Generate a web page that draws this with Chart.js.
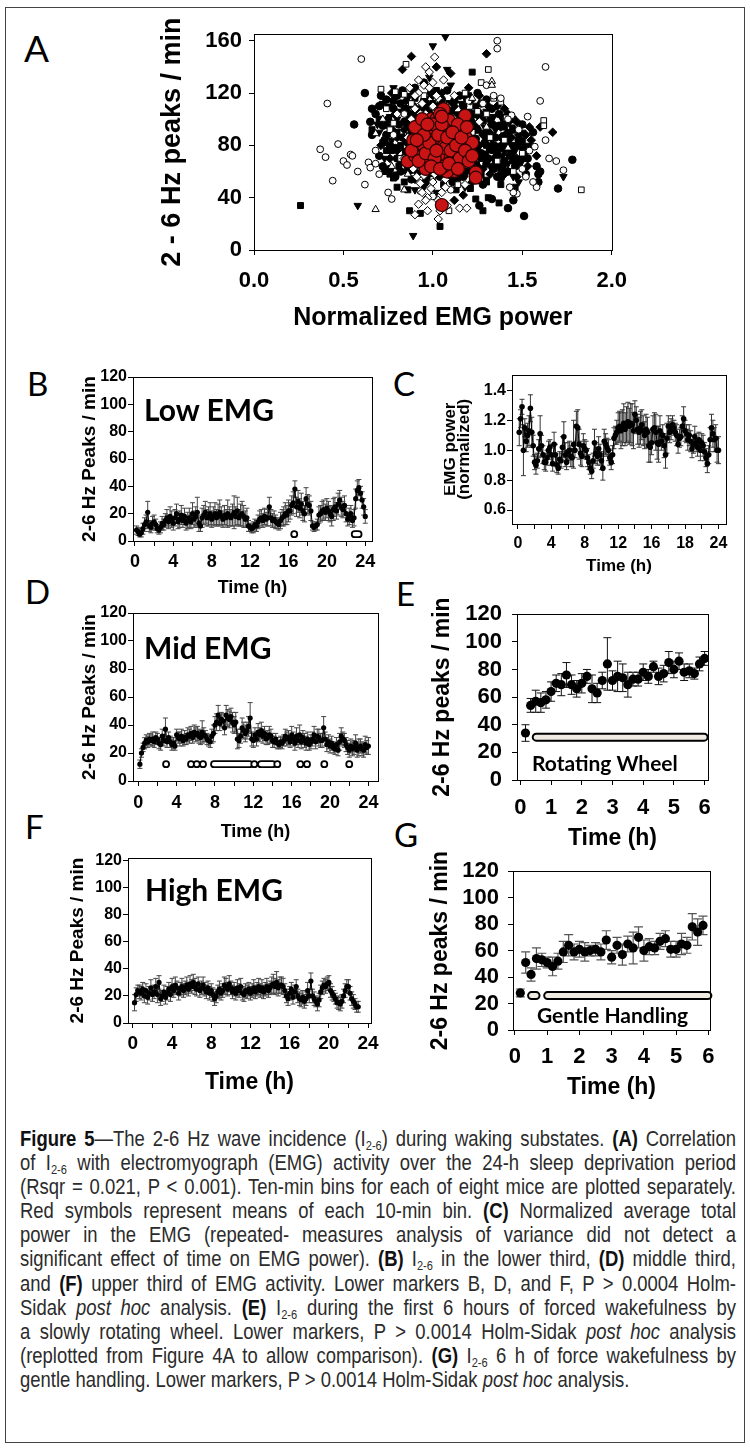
<!DOCTYPE html>
<html><head><meta charset="utf-8">
<script src="https://cdn.jsdelivr.net/npm/chart.js@4.4.1/dist/chart.umd.min.js"></script>
<style>
html,body{margin:0;padding:0;background:#fff;}
body{width:750px;height:1450px;position:relative;overflow:hidden;}
#frame{position:absolute;left:5px;top:7px;width:740px;height:1436px;border:1.6px solid #444;box-sizing:border-box;}
canvas{position:absolute;}
.lbl{position:absolute;font-family:Lato,'Open Sans',sans-serif;line-height:1;color:#000;white-space:nowrap;z-index:5;}
.pl{font-weight:400;font-size:33px;}
.ins{font-weight:700;}
#cap{position:absolute;left:20px;top:1127px;width:716px;font-family:'Liberation Sans',Arial,sans-serif;font-size:22.5px;color:#2b2b2b;z-index:5;}
#cap div{height:24.1px;line-height:24px;white-space:nowrap;transform:scaleX(0.82);transform-origin:0 0;width:880px;}
#cap b{color:#111;}
#cap sub{font-size:60%;vertical-align:-0.3em;line-height:0;}
</style></head>
<body>
<div id="frame"></div>
<div id="stage"></div>
<div class="lbl pl" style="left:24px;top:29px;font-size:37px">A</div>
<div class="lbl pl" style="left:27px;top:367px">B</div>
<div class="lbl pl" style="left:393px;top:367px">C</div>
<div class="lbl pl" style="left:25px;top:575px">D</div>
<div class="lbl pl" style="left:396px;top:577px">E</div>
<div class="lbl pl" style="left:25px;top:810px">F</div>
<div class="lbl pl" style="left:394px;top:818px">G</div>
<div class="lbl ins" style="left:144px;top:394px;font-size:30px">Low EMG</div>
<div class="lbl ins" style="left:144px;top:632px;font-size:30px">Mid EMG</div>
<div class="lbl ins" style="left:145px;top:874px;font-size:30px">High EMG</div>
<div class="lbl ins" style="left:532px;top:752px;font-size:21px">Rotating Wheel</div>
<div class="lbl ins" style="left:537px;top:1004px;font-size:21px">Gentle Handling</div>
<div id="cap">
<div class="j"><span><b>Figure 5</b>—The 2-6 Hz wave incidence (I<sub>2-6</sub>) during waking substates. <b>(A)</b> Correlation</span></div>
<div class="j"><span>of I<sub>2-6</sub> with electromyograph (EMG) activity over the 24-h sleep deprivation period</span></div>
<div class="j"><span>(Rsqr = 0.021, P &lt; 0.001). Ten-min bins for each of eight mice are plotted separately.</span></div>
<div class="j"><span>Red symbols represent means of each 10-min bin. <b>(C)</b> Normalized average total</span></div>
<div class="j"><span>power in the EMG (repeated- measures analysis of variance did not detect a</span></div>
<div class="j"><span>significant effect of time on EMG power). <b>(B)</b> I<sub>2-6</sub> in the lower third, <b>(D)</b> middle third,</span></div>
<div class="j"><span>and <b>(F)</b> upper third of EMG activity. Lower markers B, D, and F, P &gt; 0.0004 Holm-</span></div>
<div class="j"><span>Sidak <i>post hoc</i> analysis. <b>(E)</b> I<sub>2-6</sub> during the first 6 hours of forced wakefulness by</span></div>
<div class="j"><span>a slowly rotating wheel. Lower markers, P &gt; 0.0014 Holm-Sidak <i>post hoc</i> analysis</span></div>
<div class="j"><span>(replotted from Figure 4A to allow comparison). <b>(G)</b> I<sub>2-6</sub> 6 h of force wakefulness by</span></div>
<div><span>gentle handling. Lower markers, P &gt; 0.0014 Holm-Sidak <i>post hoc</i> analysis.</span></div>
</div>
<script>
// ================= DATA =================
// Panel A: tick values / labels
const aXTicks = [0, 0.5, 1, 1.5, 2];
const aXLabels = ['0.0', '0.5', '1.0', '1.5', '2.0'];
const aYTicks = [0, 40, 80, 120, 160];
const aYLabels = ['0', '40', '80', '120', '160'];
// Panel A: 10-min bins per mouse, [x, y, x, y, ...] (normalized EMG power, 2-6 Hz peaks/min)
const mouseFilledCircle = [0.62,120,0.56,96,0.65,98,0.68,104,0.66,88,0.7,110,0.72,95,0.73,84,0.75,100,0.74,115,0.78,108,0.77,92,0.79,78,0.8,70,0.76,62,
0.82,112,0.84,98,0.83,86,0.85,75,0.86,64,0.87,104,0.88,92,0.89,81,0.9,118,0.91,70,0.92,58,0.93,99,0.94,87,0.95,76,0.96,108,0.97,65,0.98,94,0.99,83,1.0,72,1.01,102,
1.02,60,1.03,90,1.04,79,1.05,115,1.06,68,1.07,97,1.08,86,1.09,56,1.1,106,1.11,75,1.12,93,1.13,64,1.14,84,1.15,101,1.16,72,1.17,110,1.18,88,1.19,61,1.2,96,1.21,78,
1.22,68,1.23,104,1.24,85,1.25,92,1.26,58,1.27,74,1.28,99,1.29,82,1.3,66,1.31,90,1.32,77,1.33,108,1.34,62,1.35,86,1.36,72,1.37,95,1.38,55,1.39,80,1.4,68,1.41,88,
1.42,60,1.44,76,1.45,92,1.47,65,1.48,84,1.5,70,1.52,58,1.55,79,1.58,64,1.51,26,1.42,32,1.45,38,1.33,39,1.26,34,1.78,69,1.7,47,1.59,52,1.59,58,1.25,120,0.95,128,
0.8,118,0.9,124,1.15,118,1.3,115,
0.7,72,0.71,118,0.72,64,0.74,88,0.76,80,0.78,114,0.79,56,0.81,96,0.82,60,0.83,122,0.85,108,0.86,82,0.88,54,0.89,110,0.9,96,0.92,84,0.93,66,0.95,114,0.96,52,
0.98,86,0.99,120,1.0,64,1.02,94,1.03,110,1.04,56,1.06,104,1.07,60,1.08,122,1.1,88,1.11,52,1.12,114,1.14,68,1.15,96,1.17,56,1.18,80,1.19,116,1.21,100,1.22,60,
1.24,94,1.25,76,1.27,112,1.28,50,1.3,86,1.31,70,1.33,96,1.34,80,1.36,56,1.37,104,1.39,64,1.4,98,1.42,84,1.43,72,1.45,100,1.46,64,1.49,80,1.5,96,1.53,70,1.56,90,
1.6,60,0.66,108];
const mouseOpenCircle = [0.6,146,0.41,112,0.37,77,0.4,71,0.47,81,0.5,68,0.52,65,0.54,73,0.55,72,0.44,53,0.64,67,0.65,63,0.68,66,0.75,44,0.77,39,1.36,160,1.36,154,
1.63,140,1.6,114,1.53,102,1.63,84,1.65,70,1.69,68,1.73,61,1.58,48,1.56,52,1.47,43,1.45,44,1.43,48,1.38,116,1.34,118,1.44,103,1.42,100,1.48,92,1.54,76,1.57,79,
1.28,112,1.2,114,0.7,58,0.62,50,0.58,60,1.5,62,1.52,56,0.68,76,1.1,46,1.0,41,0.93,45,1.3,126,0.78,88,0.84,104];
const mouseFilledSquare = [0.26,34,1.04,18,0.87,30,0.93,28,1.24,39,1.28,30,1.37,36,1.31,40,1.22,136,0.78,55,0.76,58,0.8,48,0.84,52,0.9,61,0.98,57,1.06,50,1.14,55,
1.21,47,1.3,52,1.38,50,1.46,48,0.72,82,0.74,76,0.82,80,0.86,95,0.92,108,1.0,112,1.08,104,1.16,96,1.24,110,1.32,100,1.4,94,1.46,80,0.88,72,0.96,80,1.04,86,1.12,78,
1.2,84,1.28,70,1.36,64,0.8,90,1.1,64,1.18,58,0.66,92,1.02,122,
0.7,100,0.73,60,0.77,76,0.81,64,0.84,108,0.87,84,0.9,116,0.94,62,0.98,100,1.01,68,1.05,90,1.09,112,1.12,72,1.16,84,1.2,118,1.23,92,1.27,58,1.3,80,1.34,76,1.38,60,
1.42,90,1.45,76,1.5,84,1.13,46,0.86,46];
const mouseOpenSquare = [0.71,123,0.79,121,0.78,97,0.84,119,0.85,142,1.31,138,1.27,128,1.34,116,1.38,113,1.3,104,1.41,101,1.62,99,1.62,95,1.83,46,1.09,30,0.76,92,
0.82,70,0.95,118,1.05,96,1.12,86,1.18,120,1.22,90,1.25,106,1.36,68,1.4,84,1.32,86,0.9,64,1.0,54,1.08,76,1.16,66,0.74,108,1.45,60,1.5,74,1.26,60,0.88,112,1.14,50,1.04,66];
const mouseFilledTriDown = [0.58,34,0.89,11,1.0,156,1.07,163,1.08,138,0.88,122,0.86,116,0.98,132,1.1,126,1.73,56,0.76,102,0.8,100,0.84,84,0.87,88,0.91,78,0.94,94,
0.97,70,1.0,88,1.03,96,1.06,84,1.09,90,1.12,70,1.15,80,1.18,92,1.21,72,1.24,80,1.27,90,1.3,74,1.33,84,1.36,80,1.39,72,1.42,66,1.45,56,1.48,52,1.5,90,0.85,60,0.9,54,
0.95,48,1.02,44,0.82,66,0.7,90,1.2,106,1.3,106,1.43,98,1.38,102,0.78,124,1.35,92,
0.73,70,0.75,110,0.77,84,0.8,58,0.81,106,0.84,76,0.86,118,0.88,66,0.91,102,0.93,74,0.96,116,0.97,58,1.0,106,1.01,78,1.04,120,1.05,64,1.08,96,1.1,58,1.13,104,
1.14,76,1.16,112,1.2,66,1.22,88,1.25,102,1.26,70,1.29,94,1.32,64,1.34,102,1.37,76,1.4,88,1.41,60,1.44,94,1.46,76,1.49,66,1.52,80,0.69,96,0.72,112,1.18,48,1.3,54,0.9,46];
const mouseOpenTriUp = [0.68,31,0.68,89,0.77,64,0.84,46,0.72,100,1.33,129,1.33,126,1.22,116,1.12,88,0.96,62,1.3,94,1.42,78,0.9,76,1.0,100,1.18,64,0.86,58];
const mouseFilledDiamond = [0.88,148,0.83,138,1.3,150,1.67,90,1.2,124,1.26,118,1.36,110,1.42,104,1.47,98,1.52,88,1.55,84,1.5,78,1.44,86,1.4,76,1.34,70,1.28,62,
1.22,52,1.17,42,1.12,38,1.08,62,1.0,60,0.95,70,0.9,86,0.86,100,0.92,96,0.98,104,1.04,108,1.1,100,1.16,104,1.22,98,1.28,88,1.34,96,1.26,80,1.18,74,1.1,82,1.02,76,
0.96,90,0.9,104,0.84,92,0.8,76,1.32,58,1.4,58,1.47,70,1.53,64,1.58,72,1.6,94,1.12,110,1.0,118,0.94,112,1.38,86,1.44,72,1.14,92,1.06,100,0.98,78,1.24,66,1.02,140,1.1,135,
0.71,80,0.74,96,0.76,70,0.79,104,0.8,86,0.83,70,0.85,114,0.87,60,0.89,98,0.92,68,0.94,82,0.97,112,0.99,56,1.01,88,1.03,70,1.05,120,1.07,80,1.09,66,1.11,96,1.13,58,
1.15,86,1.17,100,1.19,70,1.21,114,1.23,76,1.25,64,1.27,104,1.29,72,1.31,110,1.33,88,1.35,66,1.38,94,1.4,108,1.43,80,1.45,68,1.48,88,1.51,74,1.54,94,0.77,120,1.47,56];
const mouseOpenDiamond = [1.03,23.7,0.9,27,0.97,30,1.15,32,1.19,32,1.01,147.5,0.92,120,0.95,126,0.98,124,1.0,128,1.03,116,0.94,112,0.9,108,0.96,104,1.02,106,0.88,100,
0.93,95,0.99,98,1.04,92,0.9,90,0.96,86,1.02,84,0.88,80,0.94,76,1.0,74,1.06,78,0.91,70,0.97,66,1.03,64,0.89,62,0.95,57,1.01,58,1.07,54,0.93,51,0.99,47,1.05,44,
0.97,40,1.03,38,1.08,34,0.92,35,1.1,62,1.12,100,1.08,110,1.14,72,0.86,86,0.84,70,1.18,50,1.2,82,1.26,98,0.8,104,0.98,136,1.06,130,1.12,118,0.87,124,
0.9,118,0.93,104,0.95,92,0.97,82,0.99,72,1.01,62,1.04,100,1.06,88,0.89,72,0.91,56,0.94,44,0.96,38,1.0,110,1.02,118,1.05,68,1.07,48,0.92,130,0.96,140,1.0,52,1.04,30];
const binMeansRed = [0.935,97.7,1.06,107.7,1.18,102.7,1.03,95.5,1.06,89.7,0.96,84,0.91,79.7,0.86,67.8,0.97,67.8,1.07,70.5,1.15,64.3,1.12,60.3,1.24,59.3,1.24,55.3,
1.2,76,1.18,87,1.12,84.7,1.05,34.4,1.08,76,1.0,92,0.99,100,1.02,80,0.94,72,0.92,90,0.89,84,0.98,76,1.04,86,1.1,94,1.14,90,1.16,78,1.1,70,1.05,74,1.01,66,0.96,62,
1.08,60,1.13,74,1.06,82,1.02,100,0.97,90,0.9,72,1.09,99,1.17,70,1.22,82,1.03,72,0.95,80,1.0,84,1.07,92,1.12,66,0.93,86,1.04,104,1.0,78,1.14,96,1.09,80,0.98,70,1.06,64,
0.88,76,0.9,94,0.92,68,0.94,100,0.96,74,0.98,82,1.0,96,1.01,70,1.03,88,1.05,96,1.07,78,1.08,86,1.1,76,1.11,90,1.13,80,1.15,70,1.16,86,1.18,76,1.2,68,1.22,72,
0.99,64,1.04,62,1.09,66,1.05,102,0.95,88,0.91,84,1.14,62,1.19,94,1.02,76,0.97,96];

// Time-course panels: tick values / labels
const peakTicks = [0, 20, 40, 60, 80, 100, 120];
const peakLabels = ['0', '20', '40', '60', '80', '100', '120'];
const dayTicks = [0, 2, 4, 6, 8, 10, 12, 14, 16, 18, 20, 22, 24];
const dayLabels = ['0', '', '4', '', '8', '', '12', '', '16', '', '20', '', '24'];
const cDayLabels = ['0', '', '4', '', '8', '', '12', '', '16', '', '18', '', '24'];
const cYTicks = [0.6, 0.8, 1.0, 1.2, 1.4];
const cYLabels = ['0.6', '0.8', '1.0', '1.2', '1.4'];
const sixTicks = [0, 1, 2, 3, 4, 5, 6];
const sixLabels = ['0', '1', '2', '3', '4', '5', '6'];

// B: Low EMG, 10-min bins over 24 h (mean, SEM)
const lowMean = [8,7,5,6,9,12, 14,21,11,10,13,14, 12,9,8,10,13,12, 15,17,14,18,16,13, 17,20,14,16,19,15, 18,13,15,17,14,20,
16,18,21,13,11,17, 19,21,17,18,20,16, 18,20,17,19,21,18, 16,19,17,20,18,17, 19,21,18,22,17,19, 20,18,16,17,11,10,
9,10,12,11,14,16, 17,15,18,16,17,25, 17,15,16,14,13,12, 15,17,18,20,19,22, 22,26,28,38,25,29, 24,27,22,20,31,27,
26,22,11,10,11,12, 19,20,22,23,21,24, 22,20,18,23,25,22, 27,30,25,23,26,20, 16,18,20,15,17,31, 37,39,35,30,25,18];
const lowErr = [3,3,2,3,4,5, 5,8,4,4,5,5, 4,3,3,4,5,4, 5,6,5,7,6,5, 6,7,5,6,7,5, 6,5,6,7,5,8, 6,7,11,6,4,7, 7,8,6,7,8,6,
7,8,6,8,9,7, 6,7,6,10,7,6, 8,12,7,10,6,8, 9,8,6,7,4,3, 3,4,4,4,5,6, 6,5,6,5,6,7, 6,5,6,5,4,4, 6,6,7,8,7,8,
6,7,8,6,7,8, 7,8,7,6,8,7, 7,7,3,3,3,4, 6,6,7,7,6,7, 7,6,7,8,7,6, 8,7,7,6,7,6, 5,6,6,5,6,7, 7,6,5,6,6,5];
const lowMarkStart = [16.6, 22.9];
const lowMarkEnd = [16.6, 23.3];

// C: normalized EMG power
const emgMean = [1.12,1.21,1.29,1.0,1.15,1.06, 1.1,1.13,1.28,1.12,1.03,0.92, 0.9,0.93,1.01,1.11,1.03,0.97, 0.92,0.92,0.95,1.0,1.02,0.97,
0.91,1.04,0.97,0.9,0.88,0.94, 0.93,1.02,1.09,0.97,0.92,0.99, 1.0,0.96,0.95,1.04,1.0,1.16, 1.15,1.04,0.98,0.96,1.03,1.01,
1.0,0.95,0.92,0.88,0.86,0.93, 1.05,0.98,0.96,1.01,0.97,0.93, 0.88,1.06,1.04,1.02,1.0,0.95, 0.92,0.97,1.08,1.1,1.12,1.15,
1.16,1.13,1.15,1.18,1.14,1.17, 1.19,1.16,1.18,1.17,1.13,1.24, 1.2,1.14,1.12,1.15,1.17,1.13, 1.1,1.14,1.12,1.03,1.02,1.05,
1.14,1.15,1.12,1.05,1.04,1.13, 1.06,1.1,1.03,0.97,1.08,1.16, 1.12,1.14,1.17,1.15,1.12,1.1, 1.04,1.08,1.09,1.16,1.21,1.13,
1.11,1.07,1.1,1.06,1.01,1.04, 1.09,1.05,1.02,1.07,1.0,1.05, 1.03,0.99,0.95,0.91,0.97,1.07, 1.15,1.11,1.07,1.08,1.0,1.0];
const emgErr = [0.09,0.06,0.05,0.17,0.06,0.07, 0.08,0.1,0.09,0.1,0.07,0.05, 0.06,0.05,0.06,0.12,0.07,0.06, 0.05,0.06,0.05,0.06,0.05,0.07,
0.05,0.08,0.07,0.05,0.04,0.05, 0.05,0.07,0.1,0.08,0.05,0.06, 0.06,0.07,0.06,0.16,0.05,0.1, 0.12,0.1,0.08,0.07,0.08,0.06,
0.06,0.06,0.05,0.04,0.05,0.05, 0.09,0.07,0.06,0.08,0.07,0.06, 0.08,0.08,0.07,0.06,0.07,0.05, 0.05,0.06,0.07,0.06,0.08,0.1,
0.1,0.12,0.12,0.13,0.11,0.12, 0.13,0.12,0.13,0.14,0.12,0.09, 0.09,0.1,0.1,0.11,0.1,0.1, 0.09,0.1,0.1,0.11,0.1,0.08,
0.09,0.1,0.12,0.11,0.12,0.1, 0.06,0.07,0.08,0.09,0.1,0.07, 0.07,0.07,0.06,0.05,0.06,0.07, 0.06,0.06,0.06,0.07,0.08,0.07,
0.06,0.07,0.07,0.07,0.06,0.06, 0.07,0.06,0.06,0.05,0.07,0.06, 0.07,0.06,0.06,0.06,0.06,0.08, 0.09,0.09,0.08,0.09,0.08,0.09];

// D: Mid EMG
const midMean = [12,20,24,27,29,28, 30,29,30,28,31,30, 27,26,32,29,37,28, 31,28,26,27,25,33, 31,30,32,29,31,30, 33,32,34,31,35,33,
34,32,31,35,33,32, 30,29,28,32,34,40, 42,47,41,44,43,38, 47,45,44,46,42,40, 42,30,29,32,38,36, 34,36,39,45,30,29,
33,30,35,33,36,32, 34,30,31,33,32,29, 28,30,27,26,28,27, 29,32,30,31,28,33, 30,27,32,29,33,28, 31,29,27,30,26,28,
30,33,28,32,31,29, 29,38,30,26,28,25, 27,24,23,26,22,28, 32,30,29,26,24,22, 25,23,24,27,22,24, 25,23,22,26,24,25];
const midErr = [3,3,3,4,4,4, 4,4,5,4,4,4, 4,4,5,4,8,4, 4,4,4,4,3,4, 4,5,5,4,5,4, 5,5,5,4,5,5, 5,5,5,8,5,4, 4,4,4,5,6,6,
6,7,5,5,5,5, 7,6,6,6,7,6, 7,7,5,5,7,6, 6,6,7,11,5,5, 5,5,6,5,6,5, 5,4,5,6,5,5, 4,4,4,3,4,4, 4,5,5,5,4,6,
5,5,6,5,7,5, 5,5,5,5,4,5, 5,6,5,5,6,5, 5,8,5,5,5,5, 5,4,4,5,4,6, 6,5,5,5,5,5, 5,5,5,6,5,6, 5,5,5,6,5,6];
const midMarkStart = [2.9, 5.5, 6.1, 6.75, 7.9, 12.1, 12.8, 14.5, 16.9, 17.6, 19.4, 22.0];
const midMarkEnd = [2.9, 5.5, 6.1, 6.75, 11.6, 12.1, 14.0, 14.5, 16.9, 17.6, 19.4, 22.0];

// E: rotating wheel, first 6 h
const wheelMean = [34,54,57,56,58,64, 70,69,76,69,66,70, 75,66,63,72,84,72, 75,74,69,73,73,78, 75,82,75,77,85,80, 86,78,79,77,84,88];
const wheelErr = [6,5,8,7,6,7, 6,8,9,7,6,7, 5,10,7,6,19,7, 11,10,9,5,5,6, 5,4,6,6,8,6, 6,6,5,4,5,5];
const wheelMarkStart = [0.5];
const wheelMarkEnd = [6.0];

// F: High EMG
const highMean = [15,21,24,23,22,25, 20,24,19,22,26,21, 23,27,21,30,18,20, 23,19,22,25,21,27, 24,28,26,22,25,27, 24,26,28,25,29,27,
30,27,25,29,24,26, 28,25,23,26,22,24, 21,18,20,23,25,22, 24,28,27,25,29,26, 23,25,22,26,24,27, 22,21,24,23,25,22,
24,26,23,25,27,24, 26,23,25,27,24,26, 28,29,27,30,26,28, 28,27,24,20,18,22, 25,19,23,27,20,18, 17,19,16,18,24,20,
31,20,18,16,14,17, 23,26,28,27,29,30, 24,22,20,18,15,15, 14,16,20,24,27,27, 22,18,16,14,12,12];
const highErr = [6,5,4,5,5,5, 5,5,5,5,6,5, 5,6,6,5,5,4, 5,5,5,5,5,6, 5,6,5,5,5,6, 5,5,6,5,6,5, 6,6,5,5,5,5, 6,5,5,5,5,5,
5,5,5,5,6,5, 5,6,6,5,6,5, 5,5,5,6,5,6, 5,5,5,5,5,5, 5,6,5,5,6,5, 6,5,5,6,5,5, 6,7,6,8,6,6, 6,6,5,5,5,5,
5,5,5,5,5,5, 5,5,5,5,6,5, 6,5,5,4,5,5, 5,5,5,5,5,5, 5,5,4,4,4,5, 5,5,5,5,5,5, 5,5,5,4,4,4];

// G: gentle handling, first 6 h
const gentleMean = [28,51,42,54,53,51, 48,52,59,64,59,61, 59,60,61,59,68,55, 64,57,65,62,70,60, 63,62,67,69,61,61, 65,64,78,74,79];
const gentleErr = [3,8,5,8,5,4, 7,6,8,8,6,6, 7,4,5,6,7,5, 6,8,6,12,8,8, 6,5,6,6,6,6, 8,6,10,10,7];
const gentleMarkStart = [0.5, 1.0];
const gentleMarkEnd = [0.67, 6.0];

// ================= FONTS =================
const ARIAL = "'Liberation Sans', Arial, sans-serif";
const fA = (s, lh) => ({family: ARIAL, size: s, weight: 'bold', lineHeight: lh || 1.2});

// ================= HELPERS =================
const pairs = a => { const o = []; for (let i = 0; i < a.length; i += 2) o.push({x: a[i], y: a[i + 1]}); return o; };
// 10-min bin centres, in hours, for bin index i (category axis of the time courses)
const binHours = n => Array.from({length: n}, (_, i) => (i + 1) / 6);

const boxPlugin = {
  id: 'box',
  afterDraw(chart){
    const {ctx, chartArea: a} = chart;
    ctx.save(); ctx.strokeStyle = '#000'; ctx.lineWidth = 1;
    ctx.strokeRect(Math.round(a.left) + 0.5, Math.round(a.top) + 0.5, Math.round(a.right - a.left), Math.round(a.bottom - a.top));
    ctx.restore();
  }
};
const errPlugin = {
  id: 'err',
  beforeDatasetsDraw(chart){
    const {ctx} = chart; const ys = chart.scales.y;
    chart.data.datasets.forEach((ds, i) => {
      if (!ds.errors) return;
      const meta = chart.getDatasetMeta(i);
      ctx.save(); ctx.strokeStyle = ds.errColor; ctx.lineWidth = ds.errWidth;
      meta.data.forEach((el, j) => {
        const v = ds.data[j].y, e = ds.errors[j];
        const x = el.x, y1 = ys.getPixelForValue(v + e), y2 = ys.getPixelForValue(v - e);
        ctx.beginPath();
        ctx.moveTo(x, y1); ctx.lineTo(x, y2);
        ctx.moveTo(x - ds.capW, y1); ctx.lineTo(x + ds.capW, y1);
        ctx.moveTo(x - ds.capW, y2); ctx.lineTo(x + ds.capW, y2);
        ctx.stroke();
      });
      ctx.restore();
    });
  }
};
function markPlugin(m){
  return {
    id: 'marks',
    afterDatasetsDraw(chart){
      const {ctx} = chart; const xs = chart.scales.x, ys = chart.scales.y;
      const yc = ys.getPixelForValue(m.y);
      ctx.save(); ctx.lineWidth = m.lw; ctx.strokeStyle = '#000'; ctx.fillStyle = m.fill;
      m.starts.forEach((s, k) => {
        const x1 = xs.getPixelForValue(s) - m.hw, x2 = xs.getPixelForValue(m.ends[k]) + m.hw;
        ctx.beginPath(); ctx.roundRect(x1, yc - m.h / 2, x2 - x1, m.h, m.h / 2); ctx.fill(); ctx.stroke();
      });
      ctx.restore();
    }
  };
}
function axis(o){
  return {
    type: 'linear', min: o.min, max: o.max,
    afterBuildTicks: s => { s.ticks = o.ticks.map(v => ({value: v})); },
    afterFit: s => { if (o.horizontal) s.height = o.size; else s.width = o.size; },
    ticks: {autoSkip: false, maxRotation: 0, minRotation: 0, color: '#000', font: o.font, padding: o.padding,
      callback: (v, i) => o.labels[i]},
    grid: {drawOnChartArea: false, drawTicks: true, tickLength: o.tickLength || 5, color: '#000', lineWidth: 1},
    border: {display: false},
    title: {display: true, text: o.title, color: '#000', font: o.titleFont, padding: 0}
  };
}
function panel(p){
  const {box, yW, xH, padTop, padRight} = p;
  const left = box.l - yW, top = box.t - padTop;
  const w = box.r - box.l + yW + padRight, h = box.b - box.t + padTop + xH;
  const cv = document.createElement('canvas');
  cv.width = w; cv.height = h;
  cv.style.left = left + 'px'; cv.style.top = top + 'px'; cv.style.width = w + 'px'; cv.style.height = h + 'px';
  document.getElementById('stage').appendChild(cv);
  p.x.horizontal = true; p.x.size = xH; p.y.size = yW;
  const plugins = [boxPlugin, errPlugin];
  if (p.marks) plugins.push(markPlugin(p.marks));
  return new Chart(cv, {
    type: 'scatter',
    data: {datasets: p.datasets},
    options: {
      responsive: false, animation: false, devicePixelRatio: 1,
      layout: {padding: {top: padTop, right: padRight, left: 0, bottom: 0}},
      plugins: {legend: {display: false}, tooltip: {enabled: false}},
      scales: {x: axis(p.x), y: axis(p.y)}
    },
    plugins
  });
}
function series(times, vals, errs, st){
  return {
    data: vals.map((v, i) => ({x: times[i], y: v})), errors: errs,
    showLine: st.line, borderColor: '#000', borderWidth: st.lw || 1,
    pointRadius: st.r, pointBackgroundColor: '#000', pointBorderColor: '#000', pointBorderWidth: 0,
    errColor: st.ec, errWidth: st.ew, capW: st.cw
  };
}
function mouse(arr, style, filled, rot, r, order){
  return {data: pairs(arr), pointStyle: style, pointRotation: rot || 0, pointRadius: r, order: order,
    pointBackgroundColor: filled ? '#000' : '#fff', pointBorderColor: '#000', pointBorderWidth: 1, showLine: false};
}

Chart.defaults.color = '#000';

// ================= PANEL A =================
// (lower "order" is drawn on top: red means above open symbols above filled symbols)
panel({
  box: {l: 254, t: 29, r: 615, b: 250}, yW: 98, xH: 83, padTop: 15, padRight: 25,
  x: {min: 0, max: 2, ticks: aXTicks, labels: aXLabels, font: fA(22), padding: 13, title: 'Normalized EMG power', titleFont: fA(25)},
  y: {min: 0, max: 165, ticks: aYTicks, labels: aYLabels, font: fA(22), padding: 7, title: '2 - 6 Hz peaks / min', titleFont: fA(27)},
  datasets: [
    mouse(mouseFilledCircle, 'circle', true, 0, 3.8, 9),
    mouse(mouseFilledSquare, 'rect', true, 0, 4.2, 8),
    mouse(mouseFilledTriDown, 'triangle', true, 180, 4.3, 7),
    mouse(mouseFilledDiamond, 'rectRot', true, 0, 4.3, 6),
    mouse(mouseOpenSquare, 'rect', false, 0, 4.0, 5),
    mouse(mouseOpenCircle, 'circle', false, 0, 3.4, 4),
    mouse(mouseOpenTriUp, 'triangle', false, 0, 4.2, 3),
    mouse(mouseOpenDiamond, 'rectRot', false, 0, 4.2, 2),
    {data: pairs(binMeansRed), order: 1, pointStyle: 'circle', pointRadius: 6.5, pointBackgroundColor: '#c81414', pointBorderColor: '#2a0000', pointBorderWidth: 1.2, showLine: false}
  ]
});

// ================= PANEL B =================
panel({
  box: {l: 133, t: 377, r: 372, b: 541}, yW: 55, xH: 58, padTop: 12, padRight: 20,
  x: {min: -0.2, max: 24.7, ticks: dayTicks, labels: dayLabels, font: fA(18), padding: 5, title: 'Time (h)', titleFont: fA(18)},
  y: {min: 0, max: 120, ticks: peakTicks, labels: peakLabels, font: fA(16), padding: 1, title: '2-6 Hz Peaks / min', titleFont: fA(19)},
  datasets: [series(binHours(lowMean.length), lowMean, lowErr, {line: true, r: 2.6, ec: '#444', ew: 1, cw: 2.5})],
  marks: {starts: lowMarkStart, ends: lowMarkEnd, y: 5, h: 6, hw: 3, lw: 1.8, fill: '#fff'}
});

// ================= PANEL C =================
panel({
  box: {l: 512, t: 374, r: 726, b: 524}, yW: 68, xH: 53, padTop: 10, padRight: 16,
  x: {min: -0.7, max: 24.9, ticks: dayTicks, labels: cDayLabels, font: fA(16), padding: 5, title: 'Time (h)', titleFont: fA(17)},
  y: {min: 0.507, max: 1.505, ticks: cYTicks, labels: cYLabels, font: fA(16), padding: 1, title: ['EMG power', '(normalized)'], titleFont: fA(17, 0.78)},
  datasets: [series(binHours(emgMean.length), emgMean, emgErr, {line: true, r: 2.8, ec: '#333', ew: 1, cw: 2.5})]
});

// ================= PANEL D =================
panel({
  box: {l: 133, t: 613, r: 378, b: 781}, yW: 55, xH: 62, padTop: 12, padRight: 16,
  x: {min: -0.55, max: 25.0, ticks: dayTicks, labels: dayLabels, font: fA(18), padding: 6, title: 'Time (h)', titleFont: fA(18)},
  y: {min: 0, max: 120, ticks: peakTicks, labels: peakLabels, font: fA(16), padding: 1, title: '2-6 Hz Peaks / min', titleFont: fA(19)},
  datasets: [series(binHours(midMean.length), midMean, midErr, {line: true, r: 2.6, ec: '#444', ew: 1, cw: 2.5})],
  marks: {starts: midMarkStart, ends: midMarkEnd, y: 12, h: 6, hw: 3, lw: 1.8, fill: '#fff'}
});

// ================= PANEL E =================
panel({
  box: {l: 517, t: 605, r: 708, b: 780}, yW: 88, xH: 72, padTop: 14, padRight: 20,
  x: {min: -0.11, max: 6.11, ticks: sixTicks, labels: sixLabels, font: fA(22), padding: 10, title: 'Time (h)', titleFont: fA(23)},
  y: {min: 0, max: 120, ticks: peakTicks, labels: peakLabels, font: fA(22), padding: 10, title: '2-6 Hz peaks / min', titleFont: fA(23)},
  datasets: [series(binHours(wheelMean.length), wheelMean, wheelErr, {line: false, r: 4.6, ec: '#111', ew: 1, cw: 4})],
  marks: {starts: wheelMarkStart, ends: wheelMarkEnd, y: 31, h: 7, hw: 3, lw: 2, fill: '#efebe3'}
});

// ================= PANEL F =================
panel({
  box: {l: 128, t: 858, r: 371, b: 1023}, yW: 62, xH: 73, padTop: 12, padRight: 20,
  x: {min: -0.5, max: 24.3, ticks: dayTicks, labels: dayLabels, font: fA(19), padding: 4, title: 'Time (h)', titleFont: fA(23)},
  y: {min: 0, max: 122, ticks: peakTicks, labels: peakLabels, font: fA(16), padding: 1, title: '2-6 Hz Peaks / min', titleFont: fA(19)},
  datasets: [series(binHours(highMean.length), highMean, highErr, {line: true, r: 2.6, ec: '#444', ew: 1, cw: 2.5})]
});

// ================= PANEL G =================
panel({
  box: {l: 513, t: 863, r: 710, b: 1030}, yW: 86, xH: 71, padTop: 14, padRight: 20,
  x: {min: -0.06, max: 6.05, ticks: sixTicks, labels: sixLabels, font: fA(22), padding: 9, title: 'Time (h)', titleFont: fA(23)},
  y: {min: 0, max: 120, ticks: peakTicks, labels: peakLabels, font: fA(22), padding: 9, title: '2-6 Hz peaks / min', titleFont: fA(23)},
  datasets: [series(binHours(gentleMean.length), gentleMean, gentleErr, {line: false, r: 4.6, ec: '#555', ew: 1.2, cw: 4.5})],
  marks: {starts: gentleMarkStart, ends: gentleMarkEnd, y: 26, h: 7, hw: 3, lw: 2, fill: '#efebe3'}
});

// ================= CAPTION JUSTIFY (narrowed text, spread to full width) =================
(function(){
  const W = 716 / 0.82;
  document.querySelectorAll('#cap .j').forEach(d => {
    const s = d.firstElementChild;
    s.style.wordSpacing = '0px';
    const w = s.getBoundingClientRect().width / 0.82;
    const n = (s.textContent.match(/ /g) || []).length;
    if (n > 0) s.style.wordSpacing = ((W - w) / n) + 'px';
  });
})();
</script>
</body></html>
